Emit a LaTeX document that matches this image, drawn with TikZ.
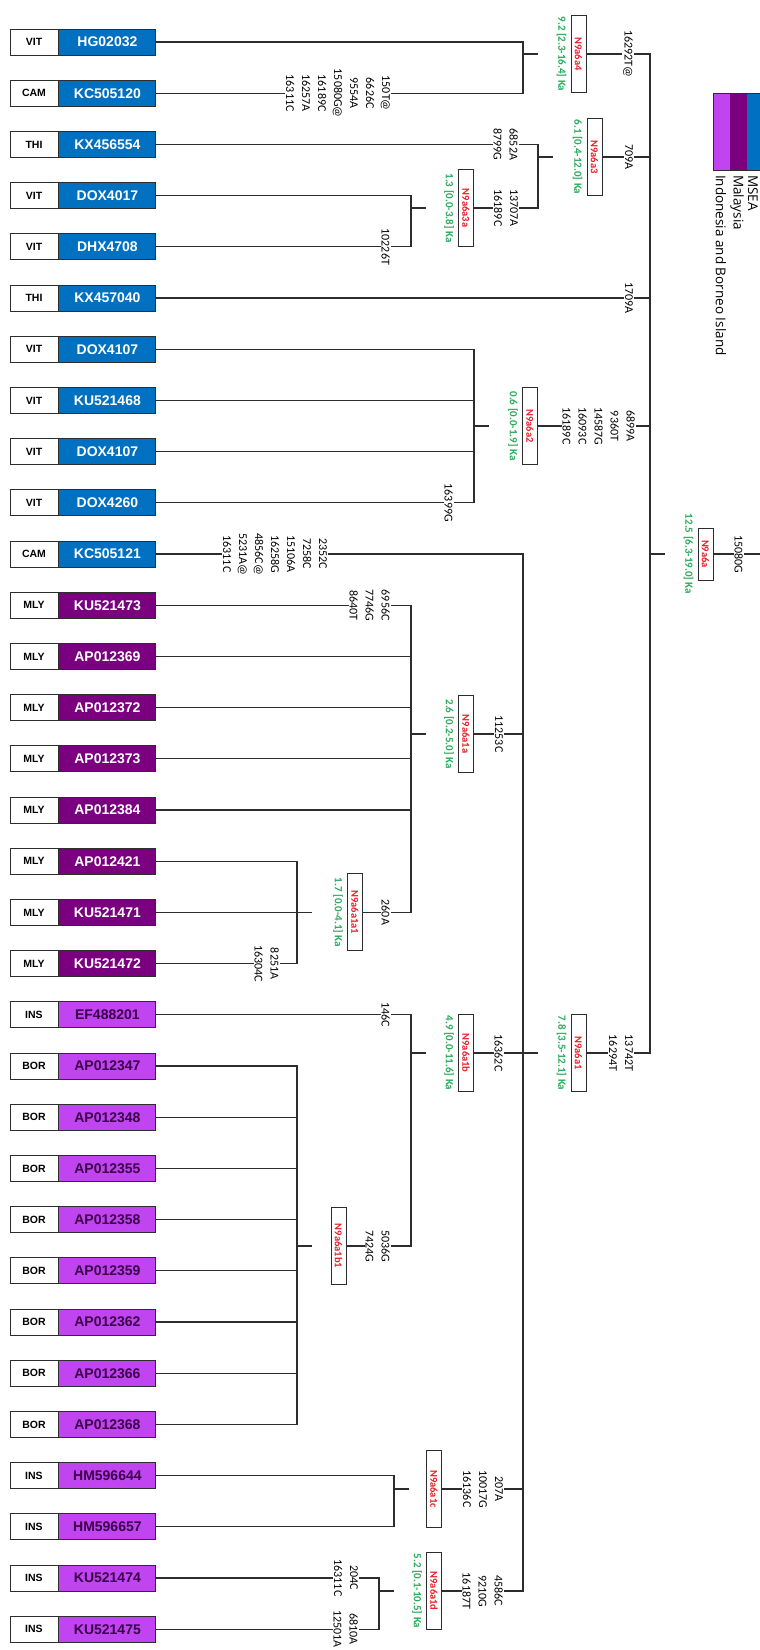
\documentclass[tikz,border=0pt]{standalone}
\usepackage{fontspec}
\setmainfont{Liberation Sans}
\newfontfamily\mutfont{Carlito}
\newfontfamily\legfont{Open Sans}
\usetikzlibrary{positioning}
\definecolor{tkedge}{RGB}{45,45,45}
\definecolor{tkmsea}{RGB}{0,112,192}
\definecolor{tkmly}{RGB}{122,0,128}
\definecolor{tkibi}{RGB}{192,68,240}
\definecolor{tkibitext}{RGB}{58,0,72}
\definecolor{tkred}{RGB}{232,30,40}
\definecolor{tkgreen}{RGB}{40,172,92}
\tikzset{
  regbox/.style={draw=tkedge, fill=white, line width=0.9pt, minimum width=48pt,
    minimum height=26pt, inner sep=0pt, font=\fontsize{10.5}{12}\selectfont\bfseries},
  accbox/.style={draw=tkedge, line width=0.9pt, minimum width=97pt,
    minimum height=26pt, inner sep=0pt, font=\fontsize{14}{16}\selectfont\bfseries},
  msea/.style={accbox, fill=tkmsea, text=white},
  mly/.style={accbox, fill=tkmly, text=white},
  ibi/.style={accbox, fill=tkibi, text=tkibitext},
  hapbox/.style={draw=tkedge, fill=white, line width=0.9pt, rotate=-90,
    minimum width=77pt, minimum height=15pt, inner sep=0pt, text=tkred,
    font=\mutfont\fontsize{10.5}{12}\selectfont\bfseries},
  age/.style={rotate=-90, anchor=north, inner sep=1pt, text=tkgreen,
    font=\mutfont\fontsize{11}{12}\selectfont\bfseries},
  mut/.style={rotate=-90, anchor=north, fill=white, inner sep=1pt, align=center,
    font=\mutfont\fontsize{12}{16}\selectfont},
  legtxt/.style={rotate=-90, anchor=west, inner sep=0pt, font=\legfont\fontsize{13.5}{16}\selectfont},
  br/.style={draw=tkedge, line width=1.2pt}
}
\begin{document}
\begin{tikzpicture}[x=1pt, y=-1pt]
  \useasboundingbox (0,0) rectangle (760,1650);
  % sequences
  \foreach \reg/\acc/\sty [count=\i from 0] in {VIT/HG02032/msea, CAM/KC505120/msea,
      THI/KX456554/msea, VIT/DOX4017/msea, VIT/DHX4708/msea, THI/KX457040/msea,
      VIT/DOX4107/msea, VIT/KU521468/msea, VIT/DOX4107/msea, VIT/DOX4260/msea,
      CAM/KC505121/msea, MLY/KU521473/mly, MLY/AP012369/mly, MLY/AP012372/mly,
      MLY/AP012373/mly, MLY/AP012384/mly, MLY/AP012421/mly, MLY/KU521471/mly,
      MLY/KU521472/mly, INS/EF488201/ibi, BOR/AP012347/ibi, BOR/AP012348/ibi,
      BOR/AP012355/ibi, BOR/AP012358/ibi, BOR/AP012359/ibi, BOR/AP012362/ibi,
      BOR/AP012366/ibi, BOR/AP012368/ibi, INS/HM596644/ibi, INS/HM596657/ibi,
      INS/KU521474/ibi, INS/KU521475/ibi} {
    \node[regbox] (r\i) at (34,{42+51.2*\i}) {\reg};
    \node[\sty, right=0pt of r\i] (l\i) {\acc};
  }
  % haplogroup boxes
  \node[hapbox] (b4) at (578.5,54) {N9a6a4};
  \node[hapbox] (b3) at (594.5,157) {N9a6a3};
  \node[hapbox] (b3a) at (466,208) {N9a6a3a};
  \node[hapbox] (b2) at (530,426) {N9a6a2};
  \node[hapbox, minimum width=52pt] (b0) at (705.5,554) {N9a6a};
  \node[hapbox] (b1) at (578.5,1053) {N9a6a1};
  \node[hapbox] (b1a) at (466,734) {N9a6a1a};
  \node[hapbox] (b1a1) at (355,912.4) {N9a6a1a1};
  \node[hapbox] (b1b) at (466,1053) {N9a6a1b};
  \node[hapbox] (b1b1) at (338.5,1246) {N9a6a1b1};
  \node[hapbox] (b1c) at (434,1489) {N9a6a1c};
  \node[hapbox] (b1d) at (434,1591) {N9a6a1d};
  % node points
  \coordinate (v0) at (650,554);
  \coordinate (v4) at (523,54);
  \coordinate (v3) at (538,157);
  \coordinate (v3a) at (411,208);
  \coordinate (v2) at (474,426);
  \coordinate (v1) at (523,1053);
  \coordinate (v1a) at (411,734);
  \coordinate (v1a1) at (297,912.4);
  \coordinate (v1b) at (411,1053);
  \coordinate (v1b1) at (297,1246);
  \coordinate (v1c) at (394,1489);
  \coordinate (v1d) at (379,1591);
  \coordinate (rootend) at (760,554);
  % branches
  \foreach \c/\p in {l0.east/v4, l1.east/v4, l2.east/v3, b3a.north/v3, l3.east/v3a,
      l4.east/v3a, l6.east/v2, l7.east/v2, l8.east/v2, l9.east/v2, b4.north/v0,
      b3.north/v0, l5.east/v0, b2.north/v0, b1.north/v0, l10.east/v1, b1a.north/v1,
      b1b.north/v1, b1c.north/v1, b1d.north/v1, l11.east/v1a, l12.east/v1a,
      l13.east/v1a, l14.east/v1a, l15.east/v1a, b1a1.north/v1a, l16.east/v1a1,
      l17.east/v1a1, l18.east/v1a1, l19.east/v1b, b1b1.north/v1b, l20.east/v1b1,
      l21.east/v1b1, l22.east/v1b1, l23.east/v1b1, l24.east/v1b1, l25.east/v1b1,
      l26.east/v1b1, l27.east/v1b1, l28.east/v1c, l29.east/v1c, l30.east/v1d,
      l31.east/v1d}
    \draw[br] (\c) -| (\p);
  \foreach \v in {v0,v4,v3,v3a,v2,v1,v1a,v1a1,v1b,v1b1,v1c,v1d}
    \draw[br] (\v) -- ++(15,0);
  \draw[br] (b0.north) -- (rootend);
  % mutations
  \node[mut] at (634,54) {16292T@};
  \node[mut] at (634,157) {709A};
  \node[mut] at (634,298) {1709A};
  \node[mut] at (636,426) {6899A\\9360T\\14587G\\16093C\\16189C};
  \node[mut] at (634,1053) {13742T\\16294T};
  \node[mut] at (744,554) {15080G};
  \node[mut] at (391,93.2) {150T@\\6626C\\9554A\\15080G@\\16189C\\16257A\\16311C};
  \node[mut] at (519,144.4) {6852A\\8799G};
  \node[mut] at (519,208) {13707A\\16189C};
  \node[mut] at (391,246.8) {10226T};
  \node[mut] at (454,502.8) {16399G};
  \node[mut] at (328,554) {2352C\\7258C\\15106A\\16258G\\4856C@\\5231A@\\16311C};
  \node[mut] at (504,734) {11253C};
  \node[mut] at (391,605.2) {6956C\\7746G\\8640T};
  \node[mut] at (391,912.4) {260A};
  \node[mut] at (280,963.6) {8251A\\16304C};
  \node[mut] at (504,1053) {16362C};
  \node[mut] at (391,1014.8) {146C};
  \node[mut] at (391,1246) {5036G\\7424G};
  \node[mut] at (504,1489) {207A\\10017G\\16136C};
  \node[mut] at (504,1591) {4586C\\9210G\\16187T};
  \node[mut] at (359,1578) {204C\\16311C};
  \node[mut] at (359,1629.2) {6810A\\12501A};
  % ages
  \foreach \b/\t in {b4/9.2 [2.3-16.4] Ka, b3/6.1 [0.4-12.0] Ka, b3a/1.3 [0.0-3.8] Ka,
      b2/0.6 [0.0-1.9] Ka, b0/12.5 [6.3-19.0] Ka, b1/7.8 [3.5-12.1] Ka,
      b1a/2.6 [0.2-5.0] Ka, b1a1/1.7 [0.0-4.1] Ka, b1b/4.9 [0.0-11.6] Ka,
      b1d/5.2 [0.1-10.5] Ka}
    \node[age] at ([xshift=-3pt]\b.south) {\t};
  % legend
  \fill[tkibi] (713,93) rectangle (730,170);
  \fill[tkmly] (730,93) rectangle (747,170);
  \fill[tkmsea] (747,93) rectangle (760,170);
  \draw[tkedge, line width=0.8pt] (713,93) rectangle (760.5,170);
  \node[legtxt] (lg1) at (753,175) {MSEA};
  \node[legtxt] (lg2) at (737,175) {Malaysia};
  \node[legtxt] (lg3) at (721,175) {Indonesia and Borneo Island};
\end{tikzpicture}
\end{document}
